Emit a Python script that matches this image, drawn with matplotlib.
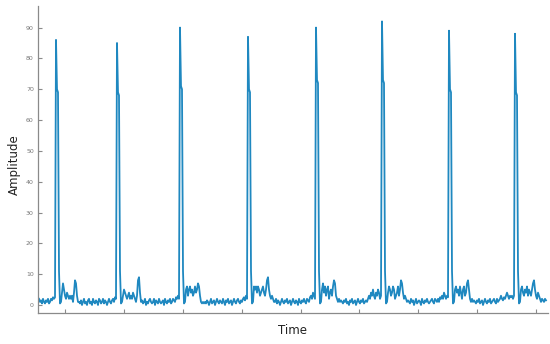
import matplotlib
matplotlib.use("Agg")
from matplotlib import pyplot as plt
import numpy as np

# signal, one sample per pixel column
lead = [2, 1, 1.5, 0.5, 2, 1, 0.5, 1.5, 1, 2, 0.5, 1, 2, 1.5, 2.5, 2, 2.5]

peaks = [86, 85, 90, 87, 90, 92, 89, 88]
shoulders = [70, 69, 71, 70, 73, 73, 70, 69]

post = [
    [1, 4, 7, 5, 3, 2, 4, 3, 2, 3, 2, 3, 1, 4, 8, 7, 3, 1],
    [1, 3, 5, 4, 3, 2, 3, 4, 2, 3, 2, 4, 3, 2, 1, 3, 8, 9, 4, 1],
    [1, 5, 6, 3, 5, 6, 4, 5, 3, 4, 6, 4, 5, 7, 6, 3, 1, 0.5, 1, 0.5],
    [1, 6, 5, 6, 4, 6, 5, 3, 4, 5, 6, 4, 3, 5, 8, 9, 5, 3, 2, 3, 2, 1],
    [1, 5, 7, 4, 6, 3, 5, 6, 2, 4, 5, 3, 6, 8, 7, 3, 2, 1, 2, 1, 1.5, 1],
    [1, 4, 6, 5, 3, 4, 6, 5, 2, 3, 4, 6, 3, 5, 8, 7, 4, 2, 3, 2, 1, 1.5],
    [1, 5, 6, 4, 5, 3, 6, 4, 2, 5, 6, 3, 4, 7, 8, 5, 2, 1, 2, 1, 1.5, 1],
    [1, 5, 6, 4, 3, 5, 4, 6, 3, 5, 4, 3, 5, 7, 8, 5, 3, 2, 4, 3, 2, 1, 2, 1.5, 1, 2, 1.5],
]

base = [
    [1, 0.5, 1.5, 0, 1, 2, 0.5, 1, 0, 1.5, 2, 0.5, 1, 0, 2, 1, 0.5, 1.5, 1, 0,
     2, 1.5, 0.5, 1, 2, 0.5, 1.5, 1, 0, 1, 2, 1, 0.5, 1.5, 2, 1, 2.5, 2],
    [1.5, 0.5, 1, 2, 0, 1, 0.5, 1.5, 2, 1, 0.5, 1, 2, 0, 1.5, 1, 0.5, 2, 1, 0.5,
     1, 1.5, 0, 2, 1, 0.5, 1.5, 1, 2, 0.5, 1, 2, 1.5, 1, 2.5, 2, 3, 2],
    [1, 0.5, 1.5, 1, 0, 1, 2, 0.5, 1, 1.5, 0, 1, 2, 1, 0.5, 1.5, 1, 0.5, 2, 1,
     0, 1.5, 1, 2, 0.5, 1, 1.5, 0, 1, 2, 1, 0.5, 1.5, 2, 1, 0.5, 1.5, 1, 2, 2.5,
     1.5, 3, 2],
    [1, 2, 0.5, 1.5, 1, 0, 1, 2, 1, 0.5, 1.5, 1, 2, 0.5, 1, 1.5, 0, 1, 2, 1,
     0.5, 1.5, 1, 0, 2, 1, 0.5, 1.5, 1, 2, 1, 0.5, 2, 1.5, 1, 2.5, 3, 2, 4, 3, 2],
    [0.5, 1.5, 1, 2, 0.5, 1, 0, 1.5, 1, 2, 0.5, 1, 1.5, 0, 1, 2, 1, 0.5, 1.5, 1,
     2, 0.5, 1, 1.5, 1, 2, 3, 2, 4, 3, 5, 3, 2, 4, 3, 5, 4, 2, 3],
    [1, 0.5, 2, 1, 1.5, 0, 1, 2, 0.5, 1, 1.5, 1, 0, 2, 1, 0.5, 1.5, 1, 2, 1,
     0.5, 1, 1.5, 2, 1, 0.5, 2, 1.5, 1, 2, 1, 2.5, 2, 3, 2, 4, 3, 2, 3, 2.5],
    [0.5, 1.5, 1, 2, 0.5, 1, 1.5, 0, 1, 2, 1, 0.5, 1.5, 1, 2, 0.5, 1, 1.5, 2, 1,
     0.5, 2, 1, 1.5, 2, 3, 2, 1.5, 2.5, 2, 3, 4, 3, 2, 3, 2.5, 3, 2, 3],
    [],
]

signal = list(lead)
for k in range(len(peaks)):
    signal += [peaks[k], shoulders[k], shoulders[k] - 1, 11, 0.5]
    signal += post[k] + base[k]
signal = np.array(signal, dtype=float)
t = np.arange(len(signal))

tick_pos = [26, 85, 144, 203, 262, 320, 379, 438, 497]

fig = plt.figure(figsize=(5.5, 3.44), dpi=100)
ax = fig.add_axes([38 / 550, 31 / 344, 510 / 550, 307 / 344])
ax.plot(t, signal, color='#1f88c0', linewidth=1.3)

ax.set_xlim(-1, 509)
ax.set_ylim(-2.6, 97)
ax.set_yticks(range(0, 91, 10))
ax.set_xticks(tick_pos)
ax.set_xticklabels([])
for s in ['top', 'right']:
    ax.spines[s].set_visible(False)
for s in ['left', 'bottom']:
    ax.spines[s].set_color('#8a8a8a')
    ax.spines[s].set_linewidth(0.9)
ax.tick_params(direction='in', length=3, width=0.8, color='#8a8a8a',
               labelsize=4.5, labelcolor='#777777', pad=3)

fig.text(14 / 550, 1 - 165 / 344, 'Amplitude', rotation=90, ha='center', va='center',
         fontsize=8.5, color='#222222')
fig.text(292 / 550, 1 - 331 / 344, 'Time', ha='center', va='center',
         fontsize=8.5, color='#222222')

fig.savefig('out.png', dpi=100)
